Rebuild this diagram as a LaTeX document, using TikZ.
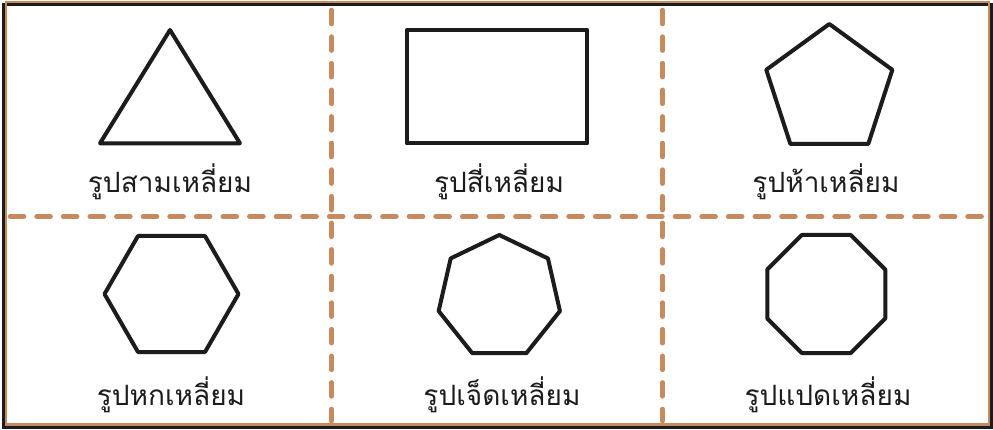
\documentclass[tikz,border=0pt]{standalone}
\usepackage{fontspec}
\newfontfamily\thaifont[Script=Thai]{Loma}
\definecolor{tan}{HTML}{C68A5E}
\definecolor{ink}{HTML}{1C1C1C}
\begin{document}
\begin{tikzpicture}[x=1pt,y=-1pt,
  poly/.style={draw=ink,line width=4pt,line join=round},
  divider/.style={draw=tan,line width=4.5pt,line cap=round,dash pattern=on 14pt off 12.6pt},
  lbl/.style={anchor=base,inner sep=0pt,text=ink,font=\thaifont\fontsize{28}{32}\selectfont}]
\useasboundingbox (0,0) rectangle (993,430);
\fill[white] (0,0) rectangle (993,430);
% dividers
\draw[divider] (10,216.5) -- (987,216.5);
\draw[divider] (331.5,10) -- (331.5,421);
\draw[divider] (662.5,10) -- (662.5,421);
% frame
\draw[ink,line width=3pt] (3,5) rectangle (991.5,427.5);
\draw[tan,line width=2.4pt] (6,2) rectangle (989,424.5);
% shapes
\draw[poly] (170,30) -- (100,143.3) -- (240,143.3) -- cycle;
\draw[poly] (406.7,30) rectangle (587.3,143.3);
\draw[poly,shift={(829.3,90.3)}] (-90:66.3) \foreach \k in {1,...,4}{ -- (-90+\k*72:66.3)} -- cycle;
\draw[poly,shift={(171.5,294)}] (0:67) \foreach \k in {1,...,5}{ -- (\k*60:67)} -- cycle;
\draw[poly,shift={(499.3,297.2)}] (-90:62.2) \foreach \k in {1,...,6}{ -- (-90+\k*51.4286:62.2)} -- cycle;
\draw[poly,shift={(826.3,294)}] (22.5:63.9) \foreach \k in {1,...,7}{ -- (22.5+\k*45:63.9)} -- cycle;
% labels
\node[lbl] (l3) at (170,193) {รูปสามเหลี่ยม};
\node[lbl] (l4) at (499,193) {รูปสี่เหลี่ยม};
\node[lbl] (l5) at (826,193) {รูปห้าเหลี่ยม};
\node[lbl] (l6) at (171,405) {รูปหกเหลี่ยม};
\node[lbl] (l7) at (502,405) {รูปเจ็ดเหลี่ยม};
\node[lbl] (l8) at (828,405) {รูปแปดเหลี่ยม};
\end{tikzpicture}
\end{document}
